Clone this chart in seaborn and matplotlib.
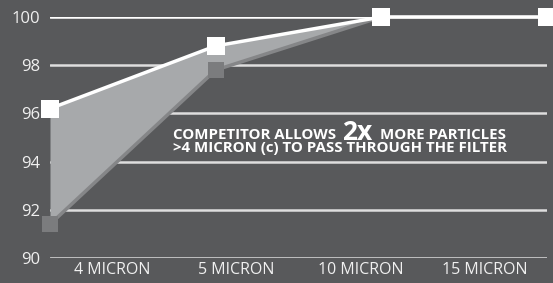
import matplotlib
matplotlib.use("Agg")
import matplotlib.pyplot as plt
import seaborn as sns
import pandas as pd

categories = ["4 MICRON", "5 MICRON", "10 MICRON", "15 MICRON"]
ours = [96.2, 98.8, 100.0, 100.0]
competitor = [91.4, 97.8, 100.0, 100.0]
yticks = [90, 92, 94, 96, 98, 100]

BG = "#58595b"
sns.set_theme(style="dark", rc={"axes.facecolor": BG, "figure.facecolor": BG})
plt.rcParams["font.family"] = ["Open Sans", "DejaVu Sans"]

W, H = 553, 283
fig = plt.figure(figsize=(W/100, H/100), dpi=100)
ax = fig.add_axes([50/W, 1-258/H, (547-50)/W, (258-17)/H])
ax.set_facecolor(BG)

x = list(range(len(categories)))
df = pd.DataFrame({"x": x * 2, "y": ours + competitor,
                   "series": ["ours"] * 4 + ["comp"] * 4})

for yv in yticks:
    ax.axhline(yv, color="#dedede" if yv != 100 else "white", lw=1.8, zorder=1)

ax.fill_between(x, competitor, ours, color="#a7a9ab", lw=0, zorder=2)
sns.lineplot(data=df[df.series == "comp"], x="x", y="y", ax=ax, color="#858688",
             lw=2.5, marker="s", markersize=11.5, markeredgewidth=0,
             markerfacecolor="#7b7c7e", zorder=3, clip_on=False)
sns.lineplot(data=df[df.series == "ours"], x="x", y="y", ax=ax, color="white",
             lw=2.5, marker="s", markersize=12.5, markeredgewidth=0,
             markerfacecolor="white", zorder=4, clip_on=False)

n = len(categories)
xmax = n - 1
ax.set_xlim(0, xmax)
ax.set_ylim(90, 100)
ax.set_yticks(yticks)
ax.set_yticklabels([str(v) for v in yticks])
# category labels sit at the centres of equal bins spanning the axis
ax.set_xticks([(i + 0.5) * xmax / n for i in range(n)])
ax.set_xticklabels(categories)
ax.tick_params(axis="y", colors="#f0f0f0", labelsize=12, length=0, pad=7)
ax.tick_params(axis="x", colors="#f0f0f0", labelsize=11.5, length=0, pad=3)
ax.set_xlabel("")
ax.set_ylabel("")
ax.grid(False)
for s in ax.spines.values():
    s.set_visible(False)

# annotation
fs = 10
t2 = fig.text(173/W, 1-148/H, ">4 MICRON (c) TO PASS THROUGH THE FILTER", ha="left",
              va="center", color="white", fontsize=fs, fontweight="bold")
fig.canvas.draw()
r = fig.canvas.get_renderer()
w = t2.get_window_extent(r).width
fs = fs * 333 / w
t2.set_fontsize(fs)
fig.text(173/W, 1-135/H, "COMPETITOR ALLOWS", ha="left", va="center",
         color="white", fontsize=fs, fontweight="bold")
fig.text(357/W, 1-140/H, "2x", ha="center", va="baseline",
         color="white", fontsize=19, fontweight="bold")
fig.text(380/W, 1-135/H, "MORE PARTICLES", ha="left", va="center",
         color="white", fontsize=fs, fontweight="bold")

fig.savefig("out.png", dpi=100, facecolor=BG)
